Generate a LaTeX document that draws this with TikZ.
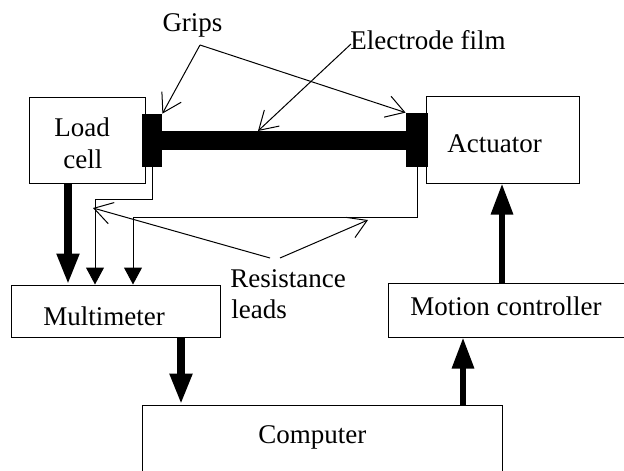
\documentclass[tikz,border=0pt]{standalone}
\usepackage{fontspec}
\setmainfont{Liberation Serif}
\usetikzlibrary{arrows.meta,fit}
\begin{document}
\begin{tikzpicture}[x=0.5pt,y=-0.5pt,
  box/.style={draw,line width=0.5pt,inner sep=0pt},
  grip/.style={fill=black,inner sep=0pt},
  lbl/.style={font=\fontsize{13.5}{16}\selectfont,inner sep=0pt,anchor=base west},
  lead/.style={line width=0.5pt,-{Triangle[length=8.5pt,width=9pt]}},
  bigarrow/.style={line width=#1,-{Triangle[length=15.5pt,width=10.5pt]}},
  bigarrow/.default=3pt,
  callout/.style={line width=0.5pt,-{Straight Barb[length=9pt,width=11pt,line width=0.5pt]}}]
\useasboundingbox (0,0) rectangle (624,470);
\clip (0,0) rectangle (624,470);

% blocks
\node[box,fit={(29,98) (145,183)}] (loadcell) {};
\node[box,fit={(426,97) (579,183)}] (actuator) {};
\node[box,fit={(11,285) (220,337)}] (meter) {};
\node[box,fit={(388,283) (660,337)}] (motion) {};
\node[box,fit={(142,405) (502,520)}] (computer) {};

% film held between the two grips
\node[grip,fit={(142,114) (162,167)}] (lgrip) {};
\node[grip,fit={(406,113) (428,167)}] (rgrip) {};
\node[grip,fit={(160,131) (408,150)}] (film) {};

% block texts
\node[lbl] (tload) at (54,137) {Load};
\node[lbl] (tcell) at (63,168) {cell};
\node[lbl] (tact) at (447,152) {Actuator};
\node[lbl] (tmeter) at (43,325) {Multimeter};
\node[lbl] (tmotion) at (410,315) {Motion controller};
\node[lbl] (tcomp) at (258,443) {Computer};

% labels
\node[lbl,anchor=base] (tgrips) at (192.5,32) {Grips};
\node[lbl] (tfilm) at (350,50) {Electrode film};
\node[lbl] (tres) at (230,287) {Resistance};
\node[lbl] (tleads) at (231,318) {leads};

% callout points
\coordinate (gfork) at (200,45);
\coordinate (ffork) at (351,44);
\coordinate (fpt) at (258,131);
\coordinate (rfl) at (270,258);
\coordinate (rfr) at (280,258);
\coordinate (rtl) at (93,208);
\coordinate (rtr) at (368,220);

\draw[callout] (gfork) -- (lgrip.north east);
\draw[callout] (gfork) -- (rgrip.north west);
\draw[callout] (ffork) -- (fpt);
\draw[callout] (rfl) -- (rtl);
\draw[callout] (rfr) -- (rtr);

% resistance leads to the multimeter
\coordinate (lbend) at (95,199);
\coordinate (rbend) at (133,217);
\draw[lead] (lgrip.south) |- (lbend) -- (lbend |- meter.north);
\draw[lead] (rgrip.south) |- (rbend) -- (rbend |- meter.north);

% signal arrows
\coordinate (xa) at (68,0);
\coordinate (xb) at (181,0);
\coordinate (xc) at (463,0);
\coordinate (xd) at (502,0);
\draw[bigarrow=3.8pt] (loadcell.south -| xa) -- (meter.north -| xa);
\draw[bigarrow=4pt] (meter.south -| xb) -- (computer.north -| xb);
\draw[bigarrow] (computer.north -| xc) -- (motion.south -| xc);
\draw[bigarrow] (motion.north -| xd) -- (actuator.south -| xd);
\end{tikzpicture}
\end{document}
